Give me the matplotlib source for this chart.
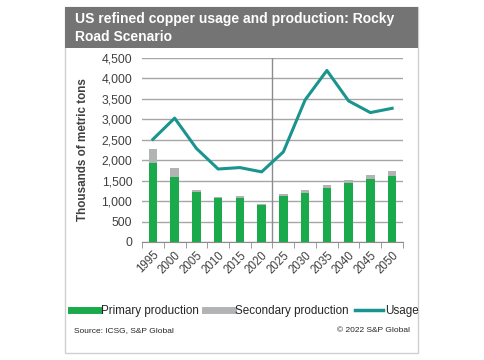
import numpy as np
import matplotlib.pyplot as plt
from matplotlib.patches import Rectangle
from matplotlib.lines import Line2D

plt.rcParams['font.family'] = ['Liberation Sans', 'DejaVu Sans']

years = ['1995', '2000', '2005', '2010', '2015', '2020',
         '2025', '2030', '2035', '2040', '2045', '2050']
primary = [1935, 1595, 1220, 1070, 1080, 900, 1130, 1210, 1325, 1445, 1540, 1610]
secondary = [345, 205, 45, 35, 40, 30, 55, 55, 75, 65, 95, 115]
usage = [2510, 3030, 2290, 1785, 1820, 1715, 2205, 3475, 4195, 3450, 3165, 3270]

green = '#1aaa4b'
grey = '#b1b3b5'
teal = '#19948f'
txt = '#404040'

W, H = 485, 360
fig = plt.figure(figsize=(W / 100, H / 100), dpi=100)

# card background and title bar
fig.patches.append(Rectangle((65 / W, 1 - 353 / H), 353 / W, 346 / H, transform=fig.transFigure,
                             facecolor='white', edgecolor='#d0d0d0', lw=1, zorder=0))
fig.patches.append(Rectangle((65 / W, 1 - 48 / H), 353 / W, 41 / H, transform=fig.transFigure,
                             facecolor='#747474', edgecolor='none', zorder=1))
fig.text(75 / W, 1 - 28 / H, 'US refined copper usage and production: Rocky\nRoad Scenario',
         color='white', fontsize=10, fontweight='bold', va='center', ha='left',
         linespacing=1.3, zorder=2)

ax = fig.add_axes([142 / W, 1 - 242 / H, 261 / W, 184 / H])
ax.set_zorder(3)
ax.patch.set_alpha(0)
x = np.arange(len(years))
ax.bar(x, primary, width=0.4, color=green, zorder=2)
ax.bar(x, secondary, width=0.4, bottom=primary, color=grey, zorder=2)
ax.plot(x, usage, color=teal, lw=2.2, zorder=3)

ax.set_xlim(-0.5, len(years) - 0.5)
ax.set_ylim(0, 4500)
ax.set_yticks(np.arange(0, 4501, 500))
ax.set_yticklabels([f'{v:,}' for v in range(0, 4501, 500)])
ax.yaxis.grid(True, color='#a6a6a6', lw=1)
ax.set_axisbelow(True)
ax.axvline(5.5, color='#8c8c8c', lw=1, zorder=1)

ax.set_xticks(x)
ax.set_xticklabels(years, rotation=45, ha='right', rotation_mode='anchor')
ax.set_xticks(np.arange(-0.5, len(years)), minor=True)
ax.tick_params(axis='x', which='major', length=0, labelsize=8.3, labelcolor=txt, pad=5)
ax.tick_params(axis='x', which='minor', length=4, color='#8c8c8c')
ax.tick_params(axis='y', length=0, labelsize=8.8, labelcolor=txt, pad=7)
for s in ['top', 'right', 'left']:
    ax.spines[s].set_visible(False)
ax.spines['bottom'].set_color('#8c8c8c')
ax.set_ylabel('Thousands of metric tons', fontsize=8.4, fontweight='bold', color=txt, labelpad=9)

# legend
handles = [Line2D([], [], color=green, lw=5),
           Line2D([], [], color=grey, lw=5),
           Line2D([], [], color=teal, lw=2.5)]
leg = fig.legend(handles, ['Primary production', 'Secondary production', 'Usage'],
                 loc='center', bbox_to_anchor=(245 / W, 1 - 311 / H), ncol=3, frameon=False,
                 fontsize=8.4, handlelength=2.4, handletextpad=0.2, columnspacing=0.5,
                 labelcolor='#262626')
leg.set_zorder(3)

fig.text(74 / W, 1 - 331 / H, 'Source: ICSG, S&P Global', fontsize=6, color='#262626',
         va='center', ha='left', zorder=3)
fig.text(410 / W, 1 - 331 / H, '© 2022 S&P Global', fontsize=6, color='#262626',
         va='center', ha='right', zorder=3)

fig.savefig('out.png', dpi=100)
